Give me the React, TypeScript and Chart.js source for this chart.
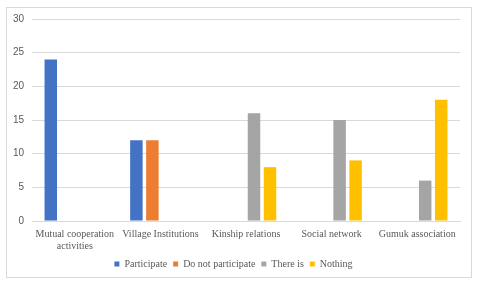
import React, { useEffect, useRef } from "react";
import { Chart, registerables } from "chart.js";

Chart.register(...registerables);

const categories: (string | string[])[] = [
  ["Mutual cooperation", "activities"],
  "Village Institutions",
  "Kinship relations",
  "Social network",
  "Gumuk association",
];
const participate = [24, 12, null, null, null];
const doNotParticipate = [null, 12, null, null, null];
const thereIs = [null, null, 16, 15, 6];
const nothing = [null, null, 8, 9, 18];
const yTicks = { min: 0, max: 30, step: 5 };

export default function App() {
  const ref = useRef<HTMLCanvasElement>(null);
  useEffect(() => {
    document.body.style.margin = "0";
    const ctx = ref.current!;
    const serif = "'Liberation Serif', 'Times New Roman', serif";
    const sans = "'Liberation Sans', Arial, sans-serif";
    const chart = new Chart(ctx, {
      type: "bar",
      data: {
        labels: categories,
        datasets: [
          { label: "Participate", data: participate, backgroundColor: "#4472C4" },
          { label: "Do not participate", data: doNotParticipate, backgroundColor: "#ED7D31" },
          { label: "There is", data: thereIs, backgroundColor: "#A5A5A5" },
          { label: "Nothing", data: nothing, backgroundColor: "#FFC000" },
        ],
      },
      options: {
        animation: false,
        responsive: false,
        maintainAspectRatio: false,
        layout: { padding: { left: 0, right: 11, top: 11, bottom: 0 } },
        datasets: { bar: { categoryPercentage: 0.748, barPercentage: 0.78 } },
        scales: {
          x: {
            grid: { display: false, drawTicks: false },
            border: { color: "#d9d9d9" },
            ticks: { color: "#595959", font: { family: serif, size: 10 }, maxRotation: 0, autoSkip: false, padding: 7 },
            afterFit: (s: any) => { s.height = 32; },
          },
          y: {
            min: yTicks.min,
            max: yTicks.max,
            ticks: { stepSize: yTicks.step, color: "#595959", font: { family: sans, size: 10 }, padding: 8 },
            grid: { color: "#d9d9d9", drawTicks: false },
            border: { display: false },
            afterFit: (s: any) => { s.width = 25; s.paddingTop = 0; s.paddingBottom = 0; },
          },
        },
        plugins: {
          legend: {
            position: "bottom",
            labels: { boxWidth: 5, boxHeight: 5, color: "#595959", font: { family: serif, size: 10 }, padding: 6 },
          },
          tooltip: { enabled: false },
        },
      },
    });
    return () => chart.destroy();
  }, []);
  return (
    <div style={{ position: "absolute", left: 6, top: 7, width: 464, height: 269, border: "1px solid #d9d9d9", background: "#fff" }}>
      <canvas ref={ref} width={464} height={271} style={{ display: "block" }} />
    </div>
  );
}
